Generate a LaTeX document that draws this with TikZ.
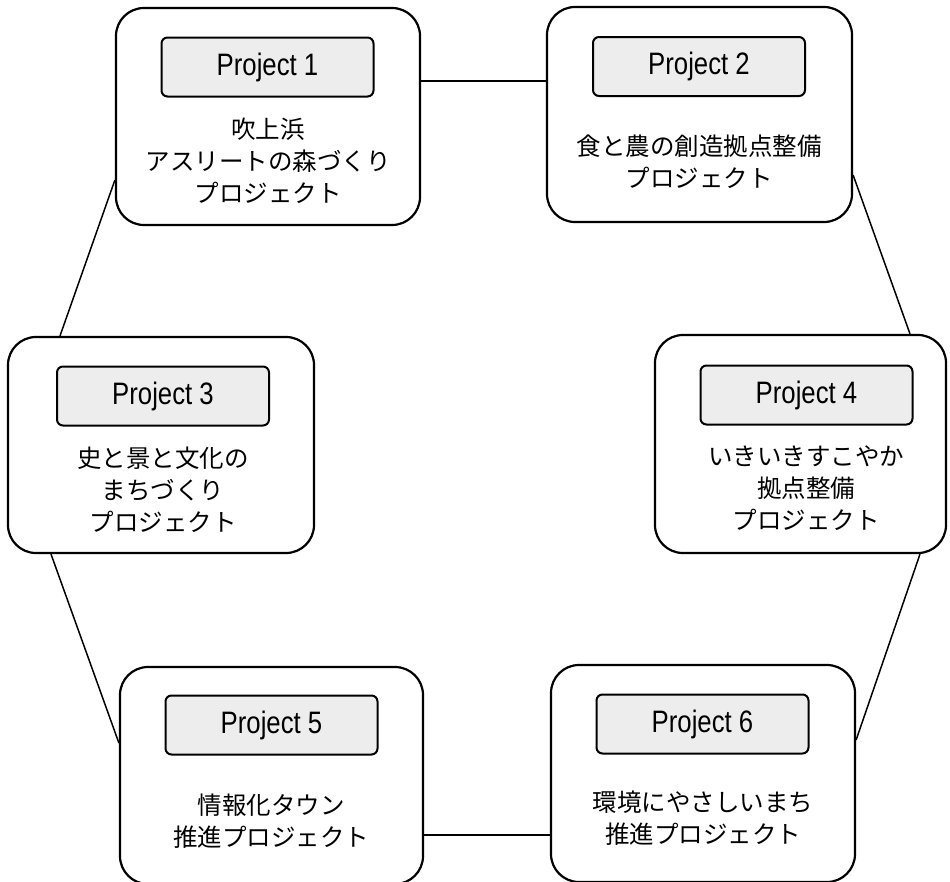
\documentclass[tikz,border=0pt]{standalone}
\usepackage{fontspec}
\newfontfamily\jpfont{Noto Sans CJK JP}
\newfontfamily\projfont[FakeStretch=0.83]{Liberation Sans}
\begin{document}
\begin{tikzpicture}[x=1pt,y=-1pt,
  outerbox/.style={draw=black, line width=2.2pt, rounded corners=28pt, inner sep=0pt},
  labelbox/.style={draw=black, fill=gray!14, line width=2pt, rounded corners=6pt,
     minimum width=212pt, minimum height=59pt, inner sep=0pt,
     font=\projfont\fontsize{31}{35}\selectfont},
  jptext/.style={align=center, inner sep=0pt, font=\jpfont\fontsize{24.5}{32}\selectfont},
  link/.style={draw=black, line width=1.5pt}]
\useasboundingbox (0,0) rectangle (950,881);
\clip (0,0) rectangle (950,881);

% outer boxes
\node[outerbox, minimum width=304pt, minimum height=217pt] (b1) at (268,116.5) {};
\node[outerbox, minimum width=305pt, minimum height=215pt] (b2) at (699.5,114.5) {};
\node[outerbox, minimum width=306pt, minimum height=216pt] (b3) at (161,445) {};
\node[outerbox, minimum width=291pt, minimum height=218pt] (b4) at (800.5,444) {};
\node[outerbox, minimum width=303pt, minimum height=217pt] (b5) at (271.5,775.5) {};
\node[outerbox, minimum width=304pt, minimum height=217pt] (b6) at (703,773.5) {};

% label boxes
\node[labelbox] (l1) at (267.5,67) {Project 1};
\node[labelbox] (l2) at (699,66.5) {Project 2};
\node[labelbox] (l3) at (163,396) {Project 3};
\node[labelbox] (l4) at (806.5,395) {Project 4};
\node[labelbox] (l5) at (271.5,725) {Project 5};
\node[labelbox] (l6) at (702.5,724) {Project 6};

% texts
\node[jptext] (t1) at (268,161) {吹上浜\\アスリートの森づくり\\プロジェクト};
\node[jptext] (t2) at (699,162) {食と農の創造拠点整備\\プロジェクト};
\node[jptext] (t3) at (163,489.5) {史と景と文化の\\まちづくり\\プロジェクト};
\node[jptext] (t4) at (806,488.5) {いきいきすこやか\\拠点整備\\プロジェクト};
\node[jptext] (t5) at (271,821) {情報化タウン\\推進プロジェクト};
\node[jptext] (t6) at (703,818.5) {環境にやさしいまち\\推進プロジェクト};

% connectors
\draw[link] ([yshift=35.5pt]b1.east) -- ([yshift=33.5pt]b2.west);
\draw[link] ([yshift=-63.5pt]b1.west) -- ([xshift=-101pt]b3.north);
\draw[link] ([yshift=-60.5pt]b2.east) -- ([xshift=109.5pt]b4.north);
\draw[link] ([xshift=-110pt]b3.south) -- ([yshift=32.5pt]b5.west);
\draw[link] ([xshift=119.5pt]b4.south) -- ([yshift=33.5pt]b6.east);
\draw[link] ([yshift=-59.5pt]b5.east) -- ([yshift=-61.5pt]b6.west);
\end{tikzpicture}
\end{document}
